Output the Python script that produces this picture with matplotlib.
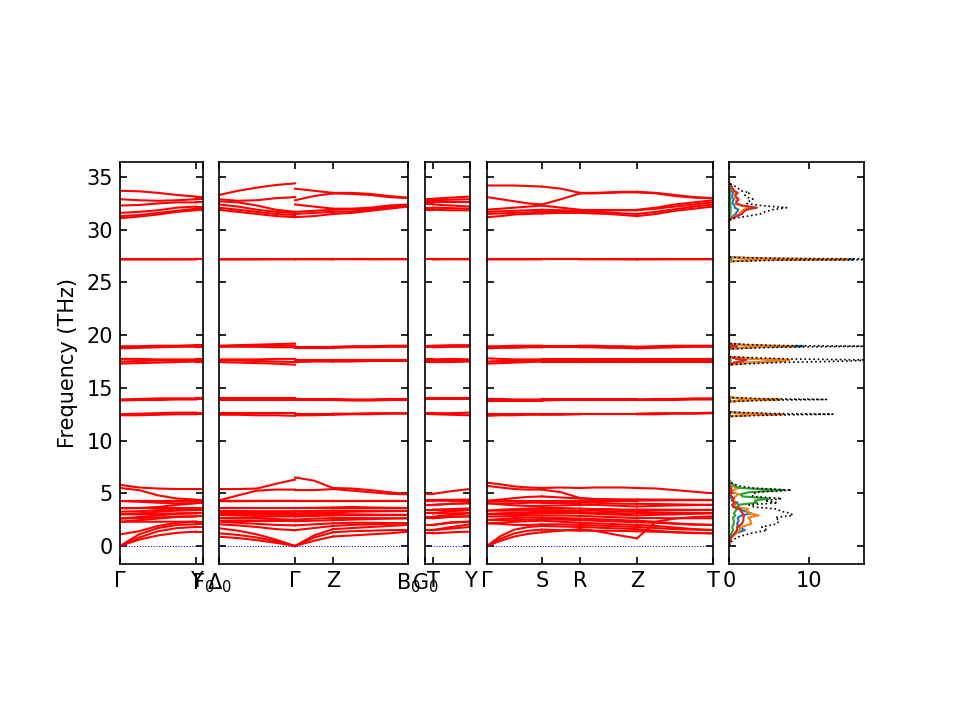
import numpy as np
import matplotlib
matplotlib.use("Agg")
import matplotlib.pyplot as plt

# ---- band path: segment lengths / samples per segment / labels, per panel
seg_len = [[76, 7], [76, 38, 75], [8, 37], [55, 38, 57, 76]]
seg_pts = [[5, 2], [5, 3, 5], [2, 3], [5, 3, 5, 5]]
labels = [[r"$\Gamma$", "Y", r"F$_0$"],
          [r"$\Delta_0$", r"$\Gamma$", "Z", r"B$_0$"],
          [r"G$_0$", "T", "Y"],
          [r"$\Gamma$", "S", "R", "Z", "T"]]

# ---- frequencies (THz), one row per band
# panel 1: G .. Y | Y F0
bands_p1 = [
  [0.0, 0.6, 1.0, 1.25, 1.36, 1.36, 1.36],
  [0.0, 0.8, 1.4, 1.7, 1.8, 1.8, 1.8],
  [0.0, 1.1, 1.7, 2.0, 2.06, 2.06, 2.06],
  [1.1, 1.4, 1.9, 2.2, 2.3, 2.3, 2.3],
  [2.3, 2.3, 2.3, 2.3, 2.32, 2.32, 2.32],
  [2.3, 2.45, 2.6, 2.75, 2.8, 2.8, 2.8],
  [2.6, 2.65, 2.7, 2.8, 2.82, 2.82, 2.82],
  [2.6, 2.75, 2.9, 3.05, 3.1, 3.1, 3.1],
  [3.0, 3.0, 3.05, 3.1, 3.12, 3.12, 3.12],
  [3.0, 3.1, 3.25, 3.35, 3.4, 3.4, 3.4],
  [3.25, 3.3, 3.4, 3.45, 3.42, 3.42, 3.42],
  [3.57, 3.57, 3.57, 3.57, 3.57, 3.57, 3.57],
  [3.57, 3.6, 3.7, 3.9, 4.05, 4.05, 4.05],
  [4.27, 4.2, 4.1, 4.05, 4.07, 4.07, 4.07],
  [4.27, 4.27, 4.27, 4.27, 4.27, 4.27, 4.27],
  [4.3, 4.3, 4.3, 4.3, 4.3, 4.3, 4.3],
  [5.5, 5.3, 4.8, 4.5, 4.4, 4.4, 4.4],
  [5.8, 5.55, 5.45, 5.4, 5.4, 5.4, 5.4],
  [12.4, 12.4, 12.45, 12.5, 12.5, 12.5, 12.5],
  [12.5, 12.55, 12.6, 12.65, 12.65, 12.65, 12.65],
  [13.8, 13.85, 13.85, 13.9, 13.9, 13.9, 13.9],
  [13.9, 13.95, 14.0, 14.0, 14.0, 14.0, 14.0],
  [17.3, 17.35, 17.4, 17.45, 17.5, 17.5, 17.5],
  [17.5, 17.55, 17.6, 17.6, 17.6, 17.6, 17.6],
  [17.75, 17.75, 17.7, 17.7, 17.7, 17.7, 17.7],
  [18.75, 18.8, 18.85, 18.9, 18.9, 18.9, 18.9],
  [18.85, 18.9, 18.95, 18.95, 19.0, 19.0, 19.0],
  [18.95, 18.95, 19.0, 19.0, 19.05, 19.05, 19.05],
  [27.18, 27.18, 27.19, 27.2, 27.2, 27.2, 27.2],
  [27.22, 27.22, 27.21, 27.2, 27.21, 27.21, 27.21],
  [31.1, 31.25, 31.45, 31.7, 31.85, 31.85, 31.85],
  [31.3, 31.4, 31.6, 31.8, 32.0, 32.0, 32.0],
  [31.6, 31.7, 31.85, 32.1, 32.2, 32.2, 32.2],
  [32.3, 32.35, 32.5, 32.6, 32.6, 32.6, 32.6],
  [32.9, 32.8, 32.75, 32.8, 32.9, 32.9, 32.9],
  [33.7, 33.65, 33.5, 33.3, 33.15, 33.15, 33.15],
]

# panel 2: D0 .. G | G .. Z | Z .. B0
bands_p2 = [
  [0.88, 0.75, 0.55, 0.3, 0.0, 0.0, 0.5, 0.9, 0.9, 1.0, 1.1, 1.2, 1.36],
  [1.2, 1.05, 0.8, 0.45, 0.0, 0.0, 0.8, 1.3, 1.3, 1.4, 1.45, 1.5, 1.52],
  [1.68, 1.45, 1.1, 0.6, 0.0, 0.0, 1.0, 1.6, 1.6, 1.7, 1.8, 1.9, 2.0],
  [2.06, 1.95, 1.8, 1.6, 1.5, 1.5, 1.7, 1.9, 1.9, 2.0, 2.05, 2.1, 2.15],
  [2.3, 2.2, 2.1, 2.0, 1.95, 1.95, 2.05, 2.15, 2.15, 2.2, 2.2, 2.18, 2.17],
  [2.35, 2.35, 2.35, 2.35, 2.35, 2.35, 2.4, 2.45, 2.45, 2.5, 2.55, 2.6, 2.62],
  [2.62, 2.6, 2.6, 2.55, 2.5, 2.5, 2.6, 2.65, 2.65, 2.65, 2.64, 2.63, 2.63],
  [2.65, 2.7, 2.75, 2.8, 2.8, 2.8, 2.85, 2.9, 2.9, 2.92, 2.93, 2.94, 2.94],
  [2.94, 2.94, 2.95, 2.95, 2.95, 2.95, 3.0, 3.05, 3.05, 3.0, 2.98, 2.96, 2.96],
  [3.1, 3.1, 3.1, 3.1, 3.1, 3.1, 3.15, 3.2, 3.2, 3.25, 3.28, 3.3, 3.32],
  [3.32, 3.32, 3.3, 3.3, 3.3, 3.3, 3.32, 3.35, 3.35, 3.35, 3.34, 3.34, 3.34],
  [3.57, 3.57, 3.57, 3.57, 3.57, 3.57, 3.57, 3.57, 3.57, 3.57, 3.57, 3.57, 3.57],
  [3.6, 3.6, 3.6, 3.6, 3.6, 3.6, 3.62, 3.65, 3.65, 3.7, 3.65, 3.62, 3.6],
  [4.25, 4.25, 4.26, 4.27, 4.27, 4.27, 4.27, 4.27, 4.27, 4.27, 4.27, 4.27, 4.27],
  [4.27, 4.28, 4.28, 4.28, 4.28, 4.28, 4.28, 4.28, 4.28, 4.28, 4.28, 4.28, 4.28],
  [4.3, 4.3, 4.3, 4.3, 4.3, 4.3, 4.3, 4.3, 4.3, 4.3, 4.3, 4.3, 4.3],
  [4.32, 4.8, 5.25, 5.35, 5.35, 5.3, 5.3, 5.4, 5.4, 5.25, 5.1, 4.95, 4.9],
  [5.4, 5.4, 5.45, 5.9, 6.3, 6.5, 6.2, 5.5, 5.5, 5.45, 5.3, 5.1, 4.92],
  [12.45, 12.45, 12.4, 12.4, 12.35, 12.4, 12.4, 12.45, 12.45, 12.5, 12.5, 12.55, 12.55],
  [12.6, 12.6, 12.6, 12.6, 12.6, 12.55, 12.55, 12.55, 12.55, 12.55, 12.6, 12.6, 12.6],
  [13.85, 13.85, 13.85, 13.85, 13.85, 13.85, 13.85, 13.85, 13.85, 13.8, 13.8, 13.85, 13.85],
  [14.0, 14.0, 14.0, 14.0, 14.0, 13.95, 13.95, 13.95, 13.95, 13.9, 13.9, 13.95, 13.95],
  [17.45, 17.4, 17.35, 17.3, 17.2, 17.45, 17.5, 17.5, 17.5, 17.5, 17.55, 17.55, 17.55],
  [17.6, 17.6, 17.55, 17.5, 17.45, 17.55, 17.55, 17.6, 17.6, 17.6, 17.6, 17.6, 17.6],
  [17.7, 17.7, 17.7, 17.75, 17.75, 17.65, 17.65, 17.65, 17.65, 17.65, 17.65, 17.65, 17.65],
  [18.9, 18.9, 18.9, 18.85, 18.85, 18.8, 18.8, 18.8, 18.8, 18.85, 18.85, 18.9, 18.9],
  [18.95, 19.0, 19.0, 19.0, 19.0, 18.85, 18.85, 18.85, 18.85, 18.9, 18.9, 18.95, 18.95],
  [19.0, 19.05, 19.1, 19.15, 19.2, 18.9, 18.9, 18.9, 18.9, 18.95, 18.95, 19.0, 19.0],
  [27.19, 27.19, 27.19, 27.2, 27.2, 27.2, 27.2, 27.19, 27.19, 27.19, 27.19, 27.19, 27.19],
  [27.21, 27.21, 27.22, 27.22, 27.22, 27.21, 27.21, 27.21, 27.21, 27.21, 27.2, 27.2, 27.2],
  [31.9, 31.7, 31.5, 31.3, 31.2, 31.2, 31.3, 31.5, 31.5, 31.6, 31.8, 32.0, 32.2],
  [32.1, 31.9, 31.7, 31.5, 31.4, 31.5, 31.6, 31.7, 31.7, 31.75, 31.9, 32.1, 32.25],
  [32.4, 32.2, 31.9, 31.7, 31.6, 31.7, 31.8, 31.9, 31.9, 31.95, 32.0, 32.2, 32.3],
  [32.7, 32.6, 32.3, 31.9, 31.7, 32.4, 32.2, 32.0, 32.0, 32.0, 32.1, 32.3, 32.4],
  [32.9, 32.75, 32.8, 33.0, 33.1, 32.8, 33.2, 33.45, 33.45, 33.4, 33.3, 33.1, 33.0],
  [33.3, 33.7, 34.0, 34.25, 34.4, 33.9, 33.7, 33.5, 33.5, 33.5, 33.4, 33.2, 33.05],
]

# panel 3: G0 T | T .. Y
bands_p3 = [
  [1.2, 1.2, 1.2, 1.3, 1.36],
  [1.5, 1.5, 1.5, 1.65, 1.8],
  [1.52, 1.52, 1.52, 1.8, 2.06],
  [2.0, 2.0, 2.0, 2.2, 2.3],
  [2.0, 2.0, 2.0, 2.25, 2.32],
  [2.63, 2.63, 2.63, 2.75, 2.8],
  [2.65, 2.65, 2.65, 2.8, 2.82],
  [2.78, 2.78, 2.78, 2.95, 3.1],
  [3.1, 3.1, 3.1, 3.1, 3.12],
  [3.12, 3.12, 3.12, 3.3, 3.4],
  [3.42, 3.42, 3.42, 3.42, 3.42],
  [3.45, 3.45, 3.45, 3.5, 3.57],
  [3.89, 3.89, 3.89, 4.0, 4.05],
  [3.9, 3.9, 3.9, 4.0, 4.07],
  [4.3, 4.3, 4.3, 4.28, 4.27],
  [4.36, 4.36, 4.36, 4.33, 4.3],
  [4.36, 4.36, 4.36, 4.38, 4.4],
  [4.95, 4.95, 4.95, 5.2, 5.4],
  [12.5, 12.5, 12.5, 12.45, 12.4],
  [12.6, 12.6, 12.6, 12.6, 12.65],
  [13.9, 13.9, 13.9, 13.9, 13.9],
  [14.0, 14.0, 14.0, 14.0, 14.0],
  [17.45, 17.45, 17.45, 17.45, 17.5],
  [17.6, 17.6, 17.6, 17.55, 17.6],
  [17.7, 17.7, 17.7, 17.75, 17.7],
  [18.85, 18.85, 18.85, 18.9, 18.9],
  [18.95, 18.95, 18.95, 18.95, 19.0],
  [19.0, 19.0, 19.0, 19.05, 19.05],
  [27.19, 27.19, 27.19, 27.2, 27.2],
  [27.21, 27.21, 27.21, 27.21, 27.21],
  [31.9, 31.9, 31.9, 31.85, 31.85],
  [32.1, 32.1, 32.1, 32.05, 32.0],
  [32.4, 32.4, 32.4, 32.3, 32.2],
  [32.6, 32.6, 32.6, 32.6, 32.6],
  [32.8, 32.8, 32.8, 32.85, 32.9],
  [32.95, 32.95, 32.95, 33.05, 33.15],
]

# panel 4: G .. S | S .. R | R .. Z | Z .. T
bands_p4 = [
  [0.0, 0.5, 0.9, 1.15, 1.3, 1.3, 1.45, 1.6, 1.6, 1.45, 1.2, 0.95, 0.73, 0.73, 2.3, 2.6, 2.75, 2.8],
  [0.0, 0.7, 1.2, 1.45, 1.55, 1.55, 1.5, 1.45, 1.45, 1.45, 1.45, 1.42, 1.4, 1.4, 1.35, 1.3, 1.25, 1.2],
  [0.0, 0.95, 1.55, 1.8, 1.9, 1.9, 1.85, 1.8, 1.8, 1.75, 1.7, 1.65, 1.6, 1.6, 1.45, 1.3, 1.22, 1.2],
  [2.15, 2.1, 2.0, 2.0, 2.05, 2.05, 2.05, 2.0, 2.0, 1.95, 1.9, 1.85, 1.8, 1.8, 1.7, 1.6, 1.55, 1.5],
  [2.15, 2.2, 2.3, 2.35, 2.4, 2.4, 2.3, 2.2, 2.2, 2.15, 2.1, 2.05, 2.0, 2.0, 1.9, 1.75, 1.6, 1.52],
  [2.47, 2.45, 2.45, 2.5, 2.55, 2.55, 2.5, 2.45, 2.45, 2.4, 2.35, 2.3, 2.25, 2.25, 2.2, 2.1, 2.02, 2.0],
  [2.47, 2.55, 2.65, 2.7, 2.7, 2.7, 2.65, 2.6, 2.6, 2.55, 2.5, 2.45, 2.4, 2.4, 2.3, 2.15, 2.05, 2.0],
  [2.8, 2.8, 2.85, 2.9, 2.9, 2.9, 2.9, 2.85, 2.85, 2.8, 2.75, 2.7, 2.65, 2.65, 2.65, 2.63, 2.63, 2.63],
  [3.04, 3.0, 3.0, 3.05, 3.1, 3.1, 3.1, 3.1, 3.1, 3.05, 3.0, 2.95, 2.9, 2.9, 2.95, 3.0, 3.05, 3.1],
  [3.04, 3.1, 3.15, 3.2, 3.25, 3.25, 3.25, 3.2, 3.2, 3.15, 3.15, 3.1, 3.1, 3.1, 3.1, 3.1, 3.1, 3.1],
  [3.35, 3.35, 3.35, 3.4, 3.4, 3.4, 3.4, 3.35, 3.35, 3.35, 3.3, 3.3, 3.3, 3.3, 3.35, 3.38, 3.4, 3.42],
  [3.35, 3.45, 3.5, 3.55, 3.6, 3.6, 3.6, 3.55, 3.55, 3.5, 3.5, 3.45, 3.45, 3.45, 3.45, 3.44, 3.43, 3.42],
  [4.05, 3.95, 3.85, 3.8, 3.8, 3.8, 3.85, 3.9, 3.9, 3.9, 3.85, 3.8, 3.75, 3.75, 3.8, 3.85, 3.88, 3.9],
  [4.05, 4.05, 4.05, 4.1, 4.1, 4.1, 4.1, 4.1, 4.1, 4.1, 4.05, 4.0, 4.0, 4.0, 3.98, 3.95, 3.92, 3.9],
  [4.3, 4.3, 4.3, 4.3, 4.3, 4.3, 4.3, 4.3, 4.3, 4.3, 4.3, 4.3, 4.3, 4.3, 4.32, 4.34, 4.35, 4.36],
  [4.3, 4.4, 4.55, 4.65, 4.7, 4.7, 4.6, 4.5, 4.5, 4.45, 4.42, 4.4, 4.38, 4.38, 4.37, 4.37, 4.36, 4.36],
  [5.7, 5.55, 5.4, 5.35, 5.35, 5.35, 5.1, 4.55, 4.55, 4.45, 4.42, 4.4, 4.4, 4.4, 4.4, 4.38, 4.37, 4.36],
  [6.0, 5.85, 5.65, 5.55, 5.5, 5.5, 5.55, 5.5, 5.5, 5.55, 5.55, 5.55, 5.5, 5.5, 5.45, 5.3, 5.15, 5.0],
  [12.35, 12.4, 12.4, 12.45, 12.45, 12.45, 12.45, 12.5, 12.5, 12.5, 12.5, 12.5, 12.5, 12.5, 12.5, 12.55, 12.55, 12.6],
  [12.55, 12.55, 12.55, 12.55, 12.55, 12.55, 12.55, 12.55, 12.55, 12.55, 12.55, 12.55, 12.55, 12.55, 12.6, 12.6, 12.6, 12.65],
  [13.8, 13.8, 13.8, 13.8, 13.8, 13.8, 13.85, 13.85, 13.85, 13.85, 13.85, 13.85, 13.85, 13.85, 13.85, 13.85, 13.9, 13.9],
  [13.95, 13.95, 13.9, 13.9, 13.9, 13.9, 13.9, 13.9, 13.9, 13.9, 13.9, 13.9, 13.9, 13.9, 13.95, 13.95, 14.0, 14.0],
  [17.3, 17.35, 17.4, 17.45, 17.5, 17.5, 17.5, 17.5, 17.5, 17.5, 17.5, 17.5, 17.5, 17.5, 17.5, 17.5, 17.5, 17.5],
  [17.5, 17.55, 17.55, 17.6, 17.6, 17.6, 17.6, 17.6, 17.6, 17.6, 17.6, 17.6, 17.6, 17.6, 17.6, 17.6, 17.6, 17.6],
  [17.8, 17.75, 17.7, 17.7, 17.7, 17.7, 17.7, 17.7, 17.7, 17.7, 17.7, 17.7, 17.7, 17.7, 17.7, 17.7, 17.7, 17.7],
  [18.75, 18.8, 18.8, 18.85, 18.85, 18.85, 18.85, 18.85, 18.85, 18.85, 18.8, 18.8, 18.75, 18.75, 18.8, 18.85, 18.9, 18.9],
  [18.85, 18.9, 18.9, 18.9, 18.9, 18.9, 18.9, 18.9, 18.9, 18.9, 18.9, 18.85, 18.85, 18.85, 18.9, 18.9, 18.95, 18.95],
  [18.95, 18.95, 19.0, 19.0, 19.0, 19.0, 19.0, 19.0, 19.0, 19.0, 18.95, 18.95, 18.9, 18.9, 18.95, 19.0, 19.0, 19.0],
  [27.19, 27.19, 27.19, 27.19, 27.2, 27.2, 27.2, 27.2, 27.2, 27.2, 27.2, 27.19, 27.19, 27.19, 27.19, 27.2, 27.2, 27.2],
  [27.21, 27.21, 27.21, 27.21, 27.21, 27.21, 27.21, 27.21, 27.21, 27.21, 27.21, 27.21, 27.21, 27.21, 27.21, 27.21, 27.21, 27.21],
  [31.2, 31.3, 31.45, 31.5, 31.55, 31.55, 31.6, 31.6, 31.6, 31.55, 31.5, 31.4, 31.3, 31.3, 31.5, 31.8, 32.0, 32.2],
  [31.5, 31.55, 31.6, 31.65, 31.7, 31.7, 31.7, 31.75, 31.75, 31.7, 31.65, 31.55, 31.5, 31.5, 31.7, 31.95, 32.2, 32.4],
  [31.7, 31.75, 31.8, 31.85, 31.9, 31.9, 31.85, 31.8, 31.8, 31.8, 31.85, 31.85, 31.85, 31.85, 32.0, 32.2, 32.4, 32.6],
  [31.9, 32.0, 32.1, 32.2, 32.3, 32.3, 32.1, 31.9, 31.9, 31.9, 31.9, 31.9, 31.9, 31.9, 32.1, 32.4, 32.6, 32.8],
  [33.1, 32.9, 32.7, 32.5, 32.4, 32.4, 32.9, 33.45, 33.45, 33.45, 33.5, 33.55, 33.55, 33.55, 33.45, 33.2, 33.05, 33.0],
  [34.2, 34.2, 34.2, 34.15, 34.1, 34.1, 33.9, 33.5, 33.5, 33.5, 33.55, 33.6, 33.6, 33.6, 33.5, 33.3, 33.1, 33.0],
]

# ---- density of states (states/THz), total and four projections
dos_freq = [0.0, 0.4, 0.8, 1.2, 1.5, 1.8, 2.1, 2.4, 2.7, 2.9, 3.1, 3.3, 3.5, 3.7, 3.9, 4.1, 4.3,
            4.5, 4.7, 4.9, 5.1, 5.3, 5.5, 5.7, 6.0, 6.3,
            12.3, 12.43, 12.5, 12.57, 12.7,
            13.7, 13.83, 13.9, 13.97, 14.1,
            17.2, 17.4, 17.55, 17.65, 17.75, 17.95,
            18.7, 18.88, 18.95, 19.02, 19.2,
            27.0, 27.13, 27.2, 27.27, 27.4,
            30.9, 31.1, 31.3, 31.5, 31.7, 31.9, 32.1, 32.3, 32.5, 32.7, 32.9, 33.1, 33.3,
            33.5, 33.7, 33.9, 34.1, 34.3, 34.5]
dos_total = [0.0, 0.3, 0.9, 2.7, 4.8, 4.1, 6.0, 6.3, 5.8, 8.0, 7.7, 6.5, 6.0, 3.2, 2.5, 6.1, 4.5,
             6.6, 3.0, 2.9, 3.5, 7.8, 3.0, 1.2, 0.3, 0.0,
             0.0, 6.0, 13.0, 4.9, 0.0,
             0.0, 5.1, 12.2, 4.0, 0.0,
             0.0, 5.8, 15.3, 17.4, 7.2, 0.0,
             0.0, 7.3, 18.6, 5.2, 0.0,
             0.0, 7.0, 31.0, 7.0, 0.0,
             0.0, 0.75, 2.4, 3.9, 4.5, 5.4, 7.2, 4.0, 2.2, 2.5, 3.0, 2.2, 2.0,
             2.6, 1.5, 1.2, 0.8, 0.3, 0.0]
pdos_1 = [0.0, 0.05, 0.2, 0.8, 2.0, 1.2, 1.0, 1.2, 1.1, 1.6, 2.8, 2.0, 1.2, 0.5, 0.4, 1.1, 0.4,
          0.3, 0.2, 0.1, 0.2, 0.2, 0.3, 0.1, 0.0, 0.0,
          0.0, 2.8, 6.0, 2.2, 0.0,
          0.0, 2.3, 5.6, 1.8, 0.0,
          0.0, 2.5, 6.5, 7.4, 3.0, 0.0,
          0.0, 3.5, 9.3, 2.5, 0.0,
          0.0, 3.5, 15.6, 3.5, 0.0,
          0.0, 0.1, 0.5, 0.8, 1.0, 1.2, 0.7, 0.7, 0.4, 0.5, 0.6, 0.4, 0.4,
          0.5, 0.3, 0.2, 0.15, 0.05, 0.0]
pdos_2 = [0.0, 0.1, 0.3, 0.9, 1.3, 1.5, 2.8, 2.7, 2.4, 3.7, 2.6, 2.2, 2.4, 0.9, 0.6, 0.8, 0.5,
          0.6, 0.8, 1.2, 0.5, 0.5, 1.2, 0.3, 0.1, 0.0,
          0.0, 3.0, 6.8, 2.5, 0.0,
          0.0, 2.6, 6.4, 2.0, 0.0,
          0.0, 2.6, 6.8, 7.6, 3.2, 0.0,
          0.0, 3.2, 8.0, 2.2, 0.0,
          0.0, 3.4, 15.0, 3.4, 0.0,
          0.0, 0.2, 0.8, 1.3, 1.5, 1.8, 2.8, 1.4, 0.8, 0.9, 1.0, 0.8, 0.7,
          0.9, 0.5, 0.4, 0.3, 0.1, 0.0]
pdos_3 = [0.0, 0.05, 0.1, 0.3, 0.5, 0.4, 0.6, 0.6, 0.5, 0.8, 0.6, 0.8, 1.0, 1.2, 1.1, 3.5, 3.2,
          5.1, 1.7, 1.4, 2.5, 6.8, 1.3, 0.7, 0.2, 0.0,
          0.0, 0.1, 0.1, 0.1, 0.0,
          0.0, 0.1, 0.1, 0.1, 0.0,
          0.0, 0.1, 0.2, 0.2, 0.1, 0.0,
          0.0, 0.1, 0.3, 0.1, 0.0,
          0.0, 0.1, 0.3, 0.1, 0.0,
          0.0, 0.05, 0.1, 0.2, 0.2, 0.2, 0.2, 0.2, 0.1, 0.1, 0.2, 0.1, 0.1,
          0.1, 0.1, 0.1, 0.05, 0.05, 0.0]
pdos_4 = [0.0, 0.1, 0.3, 0.7, 1.0, 1.0, 1.6, 1.8, 1.8, 1.9, 1.7, 1.5, 1.4, 0.6, 0.4, 0.7, 0.4,
          0.6, 0.3, 0.2, 0.3, 0.3, 0.2, 0.1, 0.0, 0.0,
          0.0, 0.05, 0.1, 0.05, 0.0,
          0.0, 0.05, 0.1, 0.05, 0.0,
          0.0, 0.6, 1.8, 2.2, 0.9, 0.0,
          0.0, 0.5, 1.0, 0.4, 0.0,
          0.0, 0.0, 0.05, 0.0, 0.0,
          0.0, 0.4, 1.0, 1.6, 1.8, 2.2, 3.5, 1.7, 0.9, 1.0, 1.2, 0.9, 0.8,
          1.1, 0.6, 0.5, 0.3, 0.1, 0.0]

freq_lim = (-1.71, 36.43)
dos_lim = (0, 16.9)

# ---- layout in pixels (left, width) for a 960x720 canvas
panel_px = [(120, 83), (219, 189), (425, 45), (487, 226)]
dos_px = (729, 135)
bottom_px, top_px = 564, 162
W, H = 960, 720


def axes_at(left, width):
  return fig.add_axes([left / W, 1 - bottom_px / H, width / W, (bottom_px - top_px) / H])


def draw_bands(ax, bands, lens, npts, labs):
  ends = np.concatenate([[0], np.cumsum(lens)])
  for row in bands:
    i = 0
    for s, n in enumerate(npts):
      x = np.linspace(ends[s], ends[s + 1], n)
      ax.plot(x, row[i:i + n], 'r-', linewidth=1)
      i += n
  ax.axhline(y=0, linestyle=':', linewidth=0.5, color='b')
  ax.set_xlim(ends[0], ends[-1])
  ax.set_xticks(ends)
  ax.set_xticklabels(labs)


fig = plt.figure(figsize=(6.4, 4.8), dpi=150)
all_bands = [bands_p1, bands_p2, bands_p3, bands_p4]
for k in range(4):
  ax = axes_at(*panel_px[k])
  draw_bands(ax, all_bands[k], seg_len[k], seg_pts[k], labels[k])
  ax.set_ylim(freq_lim)
  ax.set_yticks([0, 5, 10, 15, 20, 25, 30, 35])
  ax.tick_params(direction='in', top=True, right=True, labelleft=(k == 0))
  if k == 0:
    ax.set_ylabel("Frequency (THz)")

axd = axes_at(*dos_px)
for c, p in zip(['C0', 'C1', 'C2', 'C3'], [pdos_1, pdos_2, pdos_3, pdos_4]):
  axd.plot(p, dos_freq, color=c, linewidth=1)
axd.plot(dos_total, dos_freq, 'k:', linewidth=0.8)
axd.set_xlim(dos_lim)
axd.set_ylim(freq_lim)
axd.set_xticks([0, 10])
axd.set_yticks([0, 5, 10, 15, 20, 25, 30, 35])
axd.tick_params(direction='in', top=True, right=True, labelleft=False)

fig.savefig("out.png", dpi=150)
